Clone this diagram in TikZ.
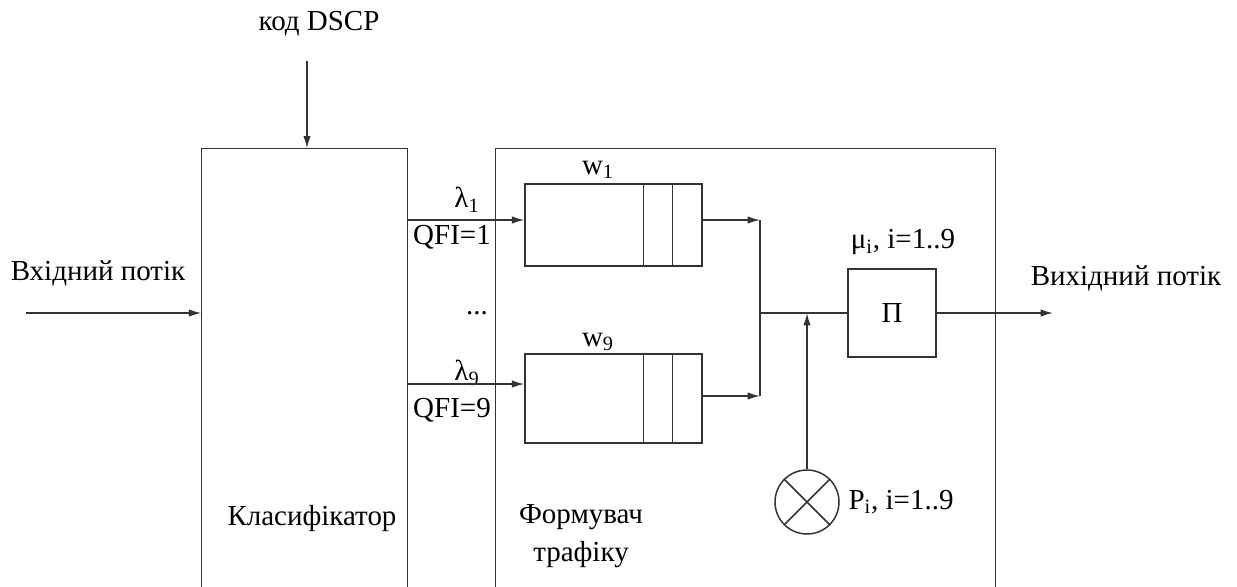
\documentclass[tikz,border=0pt]{standalone}
\usepackage{fontspec}
\setmainfont{Liberation Serif}
\usetikzlibrary{arrows.meta}
\tikzset{
  every node/.style={font=\fontsize{16.5}{19}\selectfont},
  blk/.style={minimum width=#1, inner sep=0pt},
  queue/.style={draw, inner sep=0pt, minimum width=3.54cm},
  flow/.style={-{Latex[length=7pt,width=4.2pt]}},
}

\begin{document}
\begin{tikzpicture}[x=0.02cm,y=-0.02cm,line width=0.85pt,draw=black!80]
  \useasboundingbox (0,0) rectangle (1237,586);
  % blocks, open at the bottom edge
  \node[blk=4.10cm, minimum height=8.74cm] (cls) at (304.5,367.5) {};
  \node[blk=9.98cm, minimum height=8.74cm] (shp) at (745.5,367.5) {};
  \draw (cls.south west) |- (cls.north east) -- (cls.south east);
  \draw (shp.south west) |- (shp.north east) -- (shp.south east);

  \node[queue, minimum height=1.64cm] (q1) at (613.5,225) {};
  \node[queue, minimum height=1.78cm] (q9) at (613.5,398.5) {};
  \foreach \q in {q1,q9}{
    \draw ([xshift=-1.18cm]\q.north east) -- ([xshift=-1.18cm]\q.south east);
    \draw ([xshift=-0.6cm]\q.north east) -- ([xshift=-0.6cm]\q.south east);
  }
  \node[draw, minimum size=1.76cm, inner sep=0pt] (pi) at (892,313) {П};
  \node[draw, circle, minimum size=1.28cm, inner sep=0pt] (gen) at (807,502) {};
  \draw (gen.45) -- (gen.225) (gen.135) -- (gen.-45);

  \coordinate (dscp) at (307,61);
  \coordinate (in) at (26,313);
  \coordinate (out) at (1053,313);
  \coordinate (j1) at (760,220);
  \coordinate (j9) at (760,396);
  \coordinate (jm) at (760,313);
  \coordinate (jp) at (807,313);

  % labels
  \node (tdscp) at (319,24) {код DSCP};
  \node (tin) at (98,273) {Вхідний потік};
  \node (tout) at (1126,278) {Вихідний потік};
  \node (l1) at (467,200) {λ\textsubscript{1}};
  \node (f1) at (452,237) {QFI=1};
  \node (dots) at (477,313) {...};
  \node (l9) at (467,373) {λ\textsubscript{9}};
  \node (f9) at (452,410) {QFI=9};
  \node (w1) at (598,170) {w\textsubscript{1}};
  \node (w9) at (598,342) {w\textsubscript{9}};
  \node (mu) at (903,242) {μ\textsubscript{i}, i=1..9};
  \node (pr) at (901,502) {P\textsubscript{i}, i=1..9};
  \node (tcls) at (312,519) {Класифікатор};
  \node[align=center, font=\fontsize{16.5}{21.5}\selectfont] (tshp) at (581,536) {Формувач\\трафіку};

  % connectors
  \draw[flow] (dscp) -- (cls.north -| dscp);
  \draw[flow] (in) -- (cls.west |- in);
  \draw[flow] (cls.east |- j1) -- (q1.west |- j1);
  \draw[flow] (cls.east |- 0,384) -- (q9.west |- 0,384);
  \draw[flow] (q1.east |- j1) -- (j1);
  \draw[flow] (q9.east |- j9) -- (j9);
  \draw (j1) -- (j9);
  \draw (jm) -- (pi.west);
  \draw[flow] (gen.north) -- (jp);
  \draw[flow] (pi.east) -- (out);
\end{tikzpicture}
\end{document}
